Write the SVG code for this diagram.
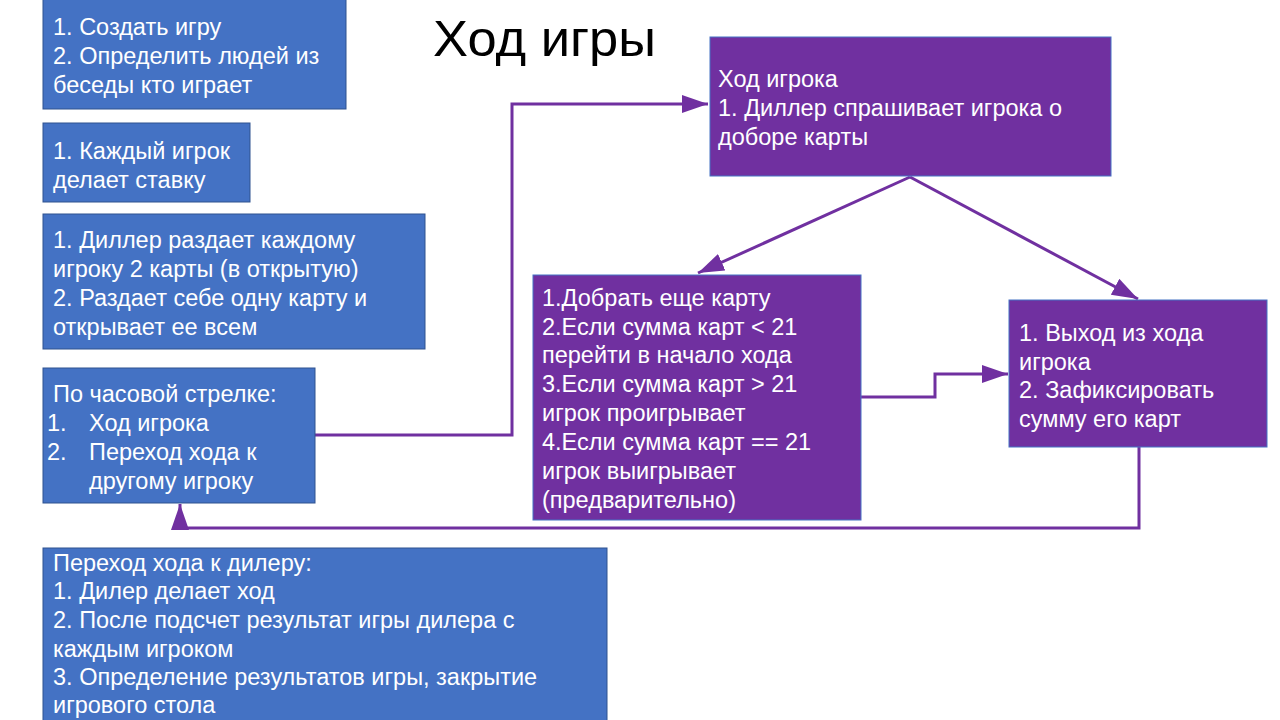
<svg xmlns="http://www.w3.org/2000/svg" width="1280" height="720" viewBox="0 0 1280 720">
<defs>
<style>
.blue{fill:#4472C4;stroke:#2F528F;stroke-width:1}
.purple{fill:#7030A0;stroke:#4472C4;stroke-width:1}
.t{font-family:"Liberation Sans",Arial,sans-serif;font-size:23.5px;fill:#ffffff}
.c{font-family:"Liberation Sans",Arial,sans-serif;font-size:23.5px;fill:#ffffff}
.title{font-family:"Liberation Sans",Arial,sans-serif;font-size:50px;fill:#000000}
.conn{fill:none;stroke:#7030A0;stroke-width:3}
</style>
<marker id="arr" markerUnits="userSpaceOnUse" markerWidth="28" markerHeight="20" refX="26" refY="9" orient="auto">
<path d="M0,0 L26,9 L0,18 Z" fill="#7030A0"/>
</marker>
</defs>
<rect width="1280" height="720" fill="#ffffff"/>
<text class="title" x="433" y="56" textLength="223" lengthAdjust="spacingAndGlyphs">Ход игры</text>

<g id="connectors">
<polyline class="conn" points="315,435 512,435 512,104 708,104" marker-end="url(#arr)"/>
<line class="conn" x1="910" y1="177" x2="698" y2="273" marker-end="url(#arr)"/>
<line class="conn" x1="910" y1="177" x2="1138" y2="299" marker-end="url(#arr)"/>
<polyline class="conn" points="861,397 935,397 935,374 1008,374" marker-end="url(#arr)"/>
<polyline class="conn" points="1139,447 1139,528 180,528 180,504" marker-end="url(#arr)"/>
</g>

<g id="node-create">
<rect class="blue" x="43" y="-1" width="303" height="110"/>
<text class="t" x="53" y="35">1. Создать игру</text>
<text class="t" x="53" y="64">2. Определить людей из</text>
<text class="t" x="53" y="93">беседы кто играет</text>
</g>

<g id="node-bet">
<rect class="blue" x="43" y="123" width="207" height="79"/>
<text class="t" x="53" y="159">1. Каждый игрок</text>
<text class="t" x="53" y="188">делает ставку</text>
</g>

<g id="node-deal">
<rect class="blue" x="43" y="214" width="382" height="135"/>
<text class="t" x="53" y="248">1. Диллер раздает каждому</text>
<text class="t" x="53" y="277">игроку 2 карты (в открытую)</text>
<text class="t" x="53" y="306">2. Раздает себе одну карту и</text>
<text class="t" x="53" y="335">открывает ее всем</text>
</g>

<g id="node-clockwise">
<rect class="blue" x="43" y="368" width="272" height="135"/>
<text class="c" x="53" y="402">По часовой стрелке:</text>
<text class="c" x="47" y="431">1.</text>
<text class="c" x="89" y="431">Ход игрока</text>
<text class="c" x="47" y="460">2.</text>
<text class="c" x="89" y="460">Переход хода к</text>
<text class="c" x="89" y="489">другому игроку</text>
</g>

<g id="node-dealer">
<rect class="blue" x="43" y="548" width="564" height="180"/>
<text class="c" x="53" y="571">Переход хода к дилеру:</text>
<text class="c" x="53" y="599">1. Дилер делает ход</text>
<text class="c" x="53" y="628">2. После подсчет результат игры дилера с</text>
<text class="c" x="53" y="657">каждым игроком</text>
<text class="c" x="53" y="685">3. Определение результатов игры, закрытие</text>
<text class="c" x="53" y="713">игрового стола</text>
</g>

<g id="node-turn">
<rect class="purple" x="710" y="37" width="401" height="139"/>
<text class="c" x="718" y="87">Ход игрока</text>
<text class="c" x="718" y="116">1. Диллер спрашивает игрока о</text>
<text class="c" x="718" y="145">доборе карты</text>
</g>

<g id="node-draw">
<rect class="purple" x="533" y="275" width="328" height="245"/>
<text class="c" x="542" y="306">1.Добрать еще карту</text>
<text class="c" x="542" y="335">2.Если сумма карт &lt; 21</text>
<text class="c" x="542" y="363">перейти в начало хода</text>
<text class="c" x="542" y="392">3.Если сумма карт &gt; 21</text>
<text class="c" x="542" y="421">игрок проигрывает</text>
<text class="c" x="542" y="450">4.Если сумма карт == 21</text>
<text class="c" x="542" y="479">игрок выигрывает</text>
<text class="c" x="542" y="508">(предварительно)</text>
</g>

<g id="node-exit">
<rect class="purple" x="1009" y="300" width="258" height="147"/>
<text class="c" x="1019" y="341">1. Выход из хода</text>
<text class="c" x="1019" y="370">игрока</text>
<text class="c" x="1019" y="398">2. Зафиксировать</text>
<text class="c" x="1019" y="427">сумму его карт</text>
</g>
</svg>
